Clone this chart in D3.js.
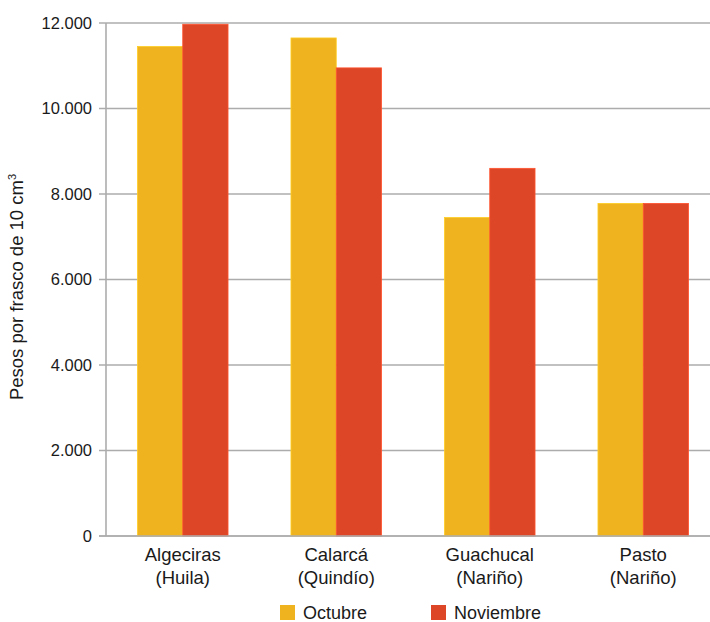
<!DOCTYPE html>
<html><head><meta charset="utf-8">
<script src="https://cdn.jsdelivr.net/npm/d3@7"></script>
<style>
body{margin:0;background:#fff;}
text{font-family:"Liberation Sans",Arial,sans-serif;fill:#1a1a1a;}
</style></head>
<body><svg id="c" width="710" height="622"></svg>
<script>
const categories = [["Algeciras","(Huila)"],["Calarcá","(Quindío)"],["Guachucal","(Nariño)"],["Pasto","(Nariño)"]];
const seriesNames = ["Octubre","Noviembre"];
const octubre = [11450, 11650, 7450, 7780];
const noviembre = [11970, 10950, 8600, 7780];
const yTicks = [0,2000,4000,6000,8000,10000,12000];
const colors = ["#EFB31F","#DD4627"];

const svg = d3.select("#c");
const pLeft = 106, pRight = 720, pTop = 23, pBottom = 536;
const x = d3.scaleBand().domain(d3.range(categories.length)).range([pLeft,pRight]).paddingInner(0.41).paddingOuter(0.205);
const xs = d3.scaleBand().domain([0,1]).range([0,x.bandwidth()]);
const y = d3.scaleLinear().domain([0,12000]).range([pBottom,pTop]);
const fmt = d => d3.format(",")(d).replace(/,/g,".");

// gridlines
svg.append("g").selectAll("line").data(yTicks).join("line")
  .attr("x1",pLeft-7).attr("x2",710).attr("y1",d=>y(d)).attr("y2",d=>y(d))
  .attr("stroke","#acacac").attr("stroke-width",1.6);
// y axis line
svg.append("line").attr("x1",pLeft).attr("x2",pLeft).attr("y1",pTop).attr("y2",pBottom)
  .attr("stroke","#acacac").attr("stroke-width",1.6);
// y labels
svg.append("g").selectAll("text").data(yTicks).join("text")
  .attr("x",pLeft-14).attr("y",d=>y(d)).attr("dy","0.35em").attr("text-anchor","end")
  .attr("font-size",16.5).text(fmt);

const series = [octubre, noviembre];
series.forEach((vals,si)=>{
  svg.append("g").selectAll("rect").data(vals).join("rect")
    .attr("x",(d,i)=>x(i)+xs(si)).attr("width",xs.bandwidth())
    .attr("y",d=>y(d)).attr("height",d=>pBottom-y(d))
    .attr("fill",colors[si]).attr("stroke",d3.color(colors[si]).brighter(0.4)).attr("stroke-width",0.8);
});
// baseline on top
svg.append("line").attr("x1",pLeft-7).attr("x2",710).attr("y1",pBottom).attr("y2",pBottom)
  .attr("stroke","#acacac").attr("stroke-width",1.6);

// x labels
const xl = svg.append("g").selectAll("text").data(categories).join("text")
  .attr("text-anchor","middle").attr("font-size",18.5)
  .attr("transform",(d,i)=>`translate(${x(i)+x.bandwidth()/2},0)`);
xl.append("tspan").attr("x",0).attr("y",561).text(d=>d[0]);
xl.append("tspan").attr("x",0).attr("y",584).text(d=>d[1]);

// y title
const yt = svg.append("text").attr("transform","translate(23,287) rotate(-90)")
  .attr("text-anchor","middle").attr("font-size",18.5);
yt.append("tspan").text("Pesos por frasco de 10 cm");
yt.append("tspan").attr("font-size",11).attr("dy",-7).text("3");

// legend
const lg = [{n:seriesNames[0],c:colors[0],x:280},{n:seriesNames[1],c:colors[1],x:431}];
const lgG = svg.append("g").selectAll("g").data(lg).join("g").attr("transform",d=>`translate(${d.x},605)`);
lgG.append("rect").attr("width",15).attr("height",15).attr("fill",d=>d.c);
lgG.append("text").attr("x",23).attr("y",13.5).attr("font-size",18).text(d=>d.n);
</script></body></html>
